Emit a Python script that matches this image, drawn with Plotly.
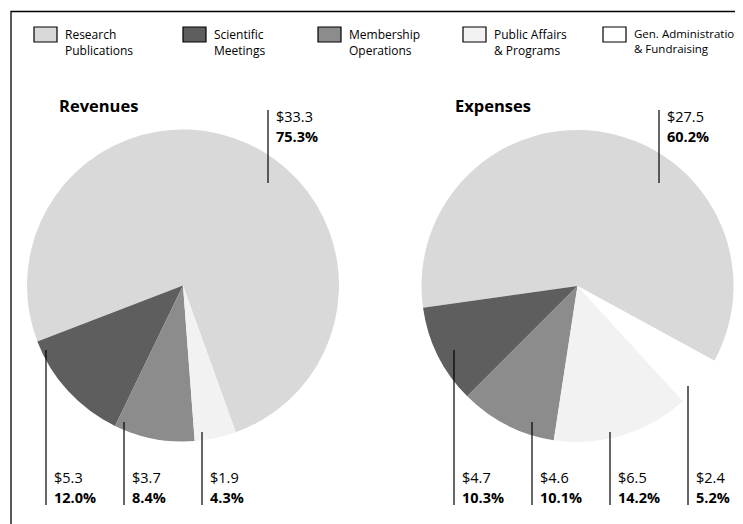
import plotly.graph_objects as go

# ---------------- data ----------------
categories = ["Research Publications", "Scientific Meetings", "Membership Operations",
              "Public Affairs & Programs", "Gen. Administration & Fundraising"]
legend_labels = ["Research<br>Publications", "Scientific<br>Meetings", "Membership<br>Operations",
                 "Public Affairs<br>& Programs", "Gen. Administration<br>& Fundraising"]
revenue_values = [33.3, 5.3, 3.7, 1.9]
revenue_pct = [75.3, 12.0, 8.4, 4.3]
expense_values = [27.5, 4.7, 4.6, 6.5, 2.4]
expense_pct = [60.2, 10.3, 10.1, 14.2, 5.2]

# ---------------- styles / layout ----------------
# the page body has an 8px margin, so the figure is sized to fit the window
OFF = 8
W, H = 743 - OFF, 524 - OFF
colors = ["#d9d9d9", "#5e5e5e", "#8c8c8c", "#f2f2f2", "#ffffff"]
FONT = "Open Sans"

def px(x):
    return (x - OFF) / W

def py(y):
    return 1 - (y - OFF) / H

pies = [
    dict(name="Revenues", values=revenue_values, pct=revenue_pct, cx=183, cy=285.5, r=156,
         rotation=-111, title_x=58,
         line_x=[268, 46, 124, 202], line_top=[110, 350, 422, 432],
         line_bot=[183, 505, 505, 505], kind=["top", "bot", "bot", "bot"]),
    dict(name="Expenses", values=expense_values, pct=expense_pct, cx=577.5, cy=286, r=156,
         rotation=-98, title_x=454,
         line_x=[659, 454, 532, 610, 688], line_top=[110, 350, 422, 432, 386],
         line_bot=[183, 505, 505, 505, 505], kind=["top", "bot", "bot", "bot", "bot"]),
]

fig = go.Figure()
shapes = []
annotations = []

def add_text(x, baseline, text, size, bold=False):
    t = f"<b>{text}</b>" if bold else text
    annotations.append(dict(
        x=px(x), y=py(baseline + 0.293 * size + 1), xref="paper", yref="paper",
        xanchor="left", yanchor="bottom", text=t, showarrow=False,
        font=dict(family=FONT, size=size, color="#000000"), align="left"))

for p in pies:
    n = len(p["values"])
    fig.add_trace(go.Pie(
        labels=categories[:n], values=p["values"], sort=False, direction="counterclockwise",
        rotation=p["rotation"], textinfo="none", hoverinfo="label+value+percent",
        marker=dict(colors=colors[:n], line=dict(width=0)),
        domain=dict(x=[px(p["cx"] - p["r"]), px(p["cx"] + p["r"])],
                    y=[py(p["cy"] + p["r"]), py(p["cy"] - p["r"])]),
        showlegend=False))
    add_text(p["title_x"] - 1, 113, p["name"], 16.5, bold=True)
    for i in range(n):
        lx = p["line_x"][i]
        shapes.append(dict(type="line", xref="paper", yref="paper",
                           x0=px(lx), x1=px(lx), y0=py(p["line_top"][i]), y1=py(p["line_bot"][i]),
                           line=dict(color="#000000", width=1.2)))
        val = f"${p['values'][i]:.1f}"
        pc = f"{p['pct'][i]:.1f}%"
        if p["kind"][i] == "top":
            b1 = p["line_top"][i] + 13
        else:
            b1 = p["line_bot"][i] - 21
        add_text(lx + 6, b1, val, 14.5)
        add_text(lx + 6, b1 + 20, pc, 14.5, bold=True)

# legend (custom boxes)
legend_box_x = [34, 183, 318, 463, 603]
legend_font = [12, 12, 12, 12, 11.5]
for i, lab in enumerate(legend_labels):
    bx = legend_box_x[i]
    shapes.append(dict(type="rect", xref="paper", yref="paper",
                       x0=px(bx), x1=px(bx + 23), y0=py(42), y1=py(27),
                       fillcolor=colors[i], line=dict(color="#000000", width=1.2)))
    annotations.append(dict(
        x=px(bx + 29), y=py(24), xref="paper", yref="paper", xanchor="left", yanchor="top",
        text=lab, showarrow=False, align="left",
        font=dict(family=FONT, size=legend_font[i], color="#000000")))

# frame (top and left edges visible)
shapes.append(dict(type="rect", xref="paper", yref="paper",
                   x0=px(11), x1=1.2, y0=-0.2, y1=py(11.5),
                   line=dict(color="#000000", width=1.3), fillcolor="rgba(0,0,0,0)"))

fig.update_layout(
    width=W, height=H, margin=dict(l=0, r=0, t=0, b=0),
    paper_bgcolor="#ffffff", plot_bgcolor="#ffffff",
    shapes=shapes, annotations=annotations, showlegend=False,
    font=dict(family=FONT, color="#000000"))

fig.write_html("out.html")
